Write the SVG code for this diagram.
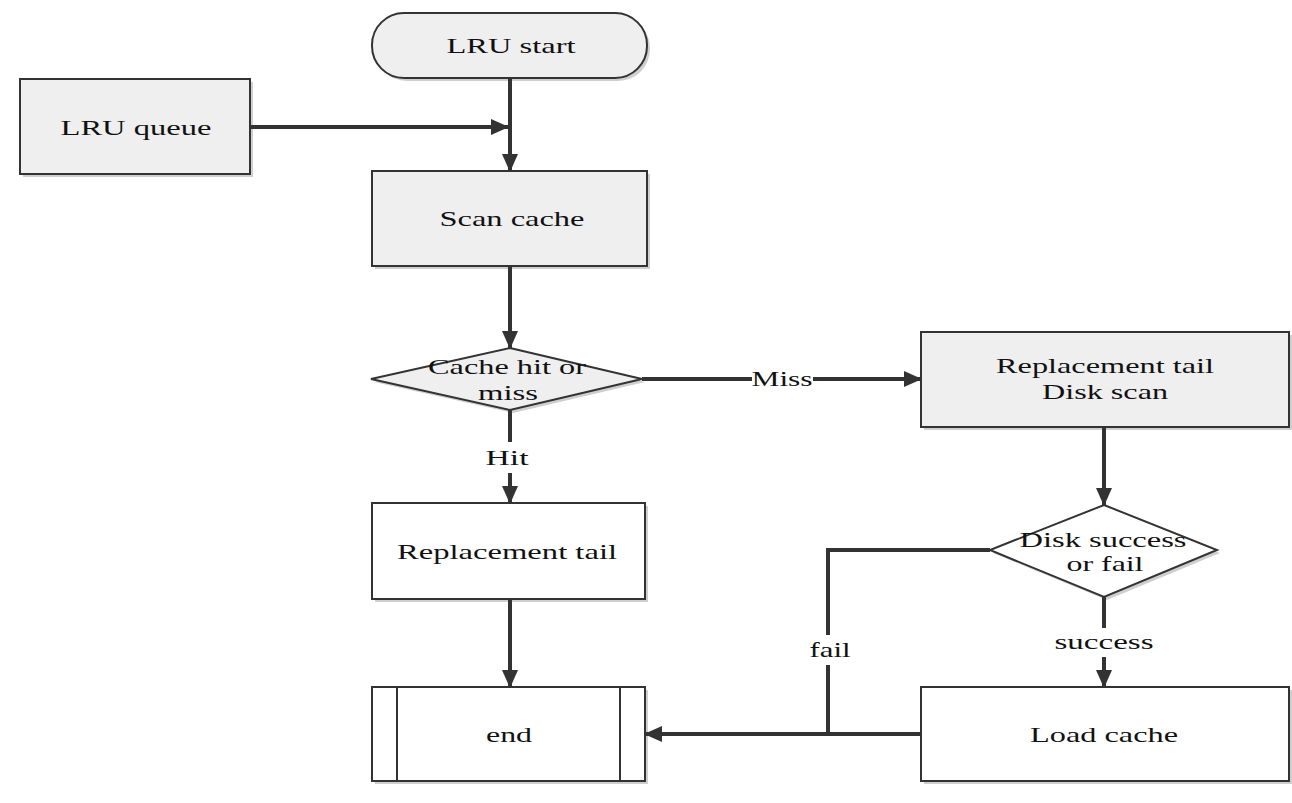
<svg xmlns="http://www.w3.org/2000/svg" width="1292" height="803" viewBox="0 0 1292 803">
<style>
.n{stroke:#333;stroke-width:2;}
.g{fill:#efefef;}
.w{fill:#fff;}
.sh{fill:#cfcfcf;stroke:none;}
.t{font-family:"Liberation Serif","Times New Roman",serif;font-size:22px;fill:#111;text-anchor:middle;dominant-baseline:central;}
.c{fill:none;stroke:#333;stroke-width:4;}
.lb{fill:#fff;stroke:none;}
</style>
<defs>
<marker id="ah" markerUnits="userSpaceOnUse" markerWidth="18" markerHeight="18" viewBox="0 0 18 18" refX="17" refY="9" orient="auto">
<path d="M0,1 L18,9 L0,17 Z" fill="#333"/>
</marker>
</defs>
<rect width="1292" height="803" fill="#fff"/>

<g id="n-start">
<rect class="sh" x="375" y="16" width="275" height="65" rx="32"/>
<rect class="n g" x="372" y="13" width="275" height="65" rx="32"/>
<text class="t" x="511" y="45" textLength="129" lengthAdjust="spacingAndGlyphs">LRU start</text>
</g>
<g id="n-queue">
<rect class="sh" x="23" y="82" width="230" height="95"/>
<rect class="n g" x="20" y="79" width="230" height="95"/>
<text class="t" x="136" y="127" textLength="151" lengthAdjust="spacingAndGlyphs">LRU queue</text>
</g>
<g id="n-scan">
<rect class="sh" x="375" y="174" width="275" height="95"/>
<rect class="n g" x="372" y="171" width="275" height="95"/>
<text class="t" x="512" y="218" textLength="145" lengthAdjust="spacingAndGlyphs">Scan cache</text>
</g>
<g id="n-hit">
<polygon class="sh" points="513,351 645,382 513,413 374,382"/>
<polygon class="n g" points="510,348 642,379 510,410 371,379"/>
<text class="t" x="507" y="366" textLength="158" lengthAdjust="spacingAndGlyphs">Cache hit or</text>
<text class="t" x="508" y="392" textLength="60" lengthAdjust="spacingAndGlyphs">miss</text>
</g>
<g id="n-disk">
<rect class="sh" x="924" y="335" width="368" height="95"/>
<rect class="n g" x="921" y="332" width="368" height="95"/>
<text class="t" x="1105" y="365" textLength="218" lengthAdjust="spacingAndGlyphs">Replacement tail</text>
<text class="t" x="1105" y="391" textLength="126" lengthAdjust="spacingAndGlyphs">Disk scan</text>
</g>
<g id="n-repl">
<rect class="sh" x="375" y="506" width="273" height="96"/>
<rect class="n w" x="372" y="503" width="273" height="96"/>
<text class="t" x="507" y="551" textLength="220" lengthAdjust="spacingAndGlyphs">Replacement tail</text>
</g>
<g id="n-dsf">
<polygon class="sh" points="1107,508 1220,553 1107,600 993,553"/>
<polygon class="n w" points="1104,505 1217,550 1104,597 990,550"/>
<text class="t" x="1103" y="539" textLength="167" lengthAdjust="spacingAndGlyphs">Disk success</text>
<text class="t" x="1105" y="563" textLength="77" lengthAdjust="spacingAndGlyphs">or fail</text>
</g>
<g id="n-end">
<rect class="sh" x="375" y="690" width="273" height="94"/>
<rect class="n w" x="372" y="687" width="273" height="94"/>
<line class="n" x1="397" y1="687" x2="397" y2="781"/>
<line class="n" x1="620" y1="687" x2="620" y2="781"/>
<text class="t" x="509" y="734" textLength="46" lengthAdjust="spacingAndGlyphs">end</text>
</g>
<g id="n-load">
<rect class="sh" x="924" y="690" width="368" height="94"/>
<rect class="n w" x="921" y="687" width="368" height="94"/>
<text class="t" x="1104" y="734" textLength="148" lengthAdjust="spacingAndGlyphs">Load cache</text>
</g>

<g id="connectors">
<path class="c" d="M510,78 L510,171" marker-end="url(#ah)"/>
<path class="c" d="M250,127 L508,127" marker-end="url(#ah)"/>
<path class="c" d="M510,266 L510,348" marker-end="url(#ah)"/>
<path class="c" d="M642,379 L921,379" marker-end="url(#ah)"/>
<rect class="lb" x="752" y="369" width="61" height="20"/>
<text class="t" x="782" y="378" textLength="61" lengthAdjust="spacingAndGlyphs">Miss</text>
<path class="c" d="M510,410 L510,503" marker-end="url(#ah)"/>
<rect class="lb" x="484" y="442" width="50" height="31"/>
<text class="t" x="507" y="457" textLength="43" lengthAdjust="spacingAndGlyphs">Hit</text>
<path class="c" d="M510,599 L510,687" marker-end="url(#ah)"/>
<path class="c" d="M1104,427 L1104,505" marker-end="url(#ah)"/>
<path class="c" d="M1104,597 L1104,687" marker-end="url(#ah)"/>
<rect class="lb" x="1052" y="628" width="106" height="29"/>
<text class="t" x="1104" y="641" textLength="99" lengthAdjust="spacingAndGlyphs">success</text>
<path class="c" d="M990,550 L828,550 L828,734"/>
<rect class="lb" x="806" y="635" width="48" height="30"/>
<text class="t" x="830" y="649" textLength="41" lengthAdjust="spacingAndGlyphs">fail</text>
<path class="c" d="M921,734 L645,734" marker-end="url(#ah)"/>
</g>
</svg>
